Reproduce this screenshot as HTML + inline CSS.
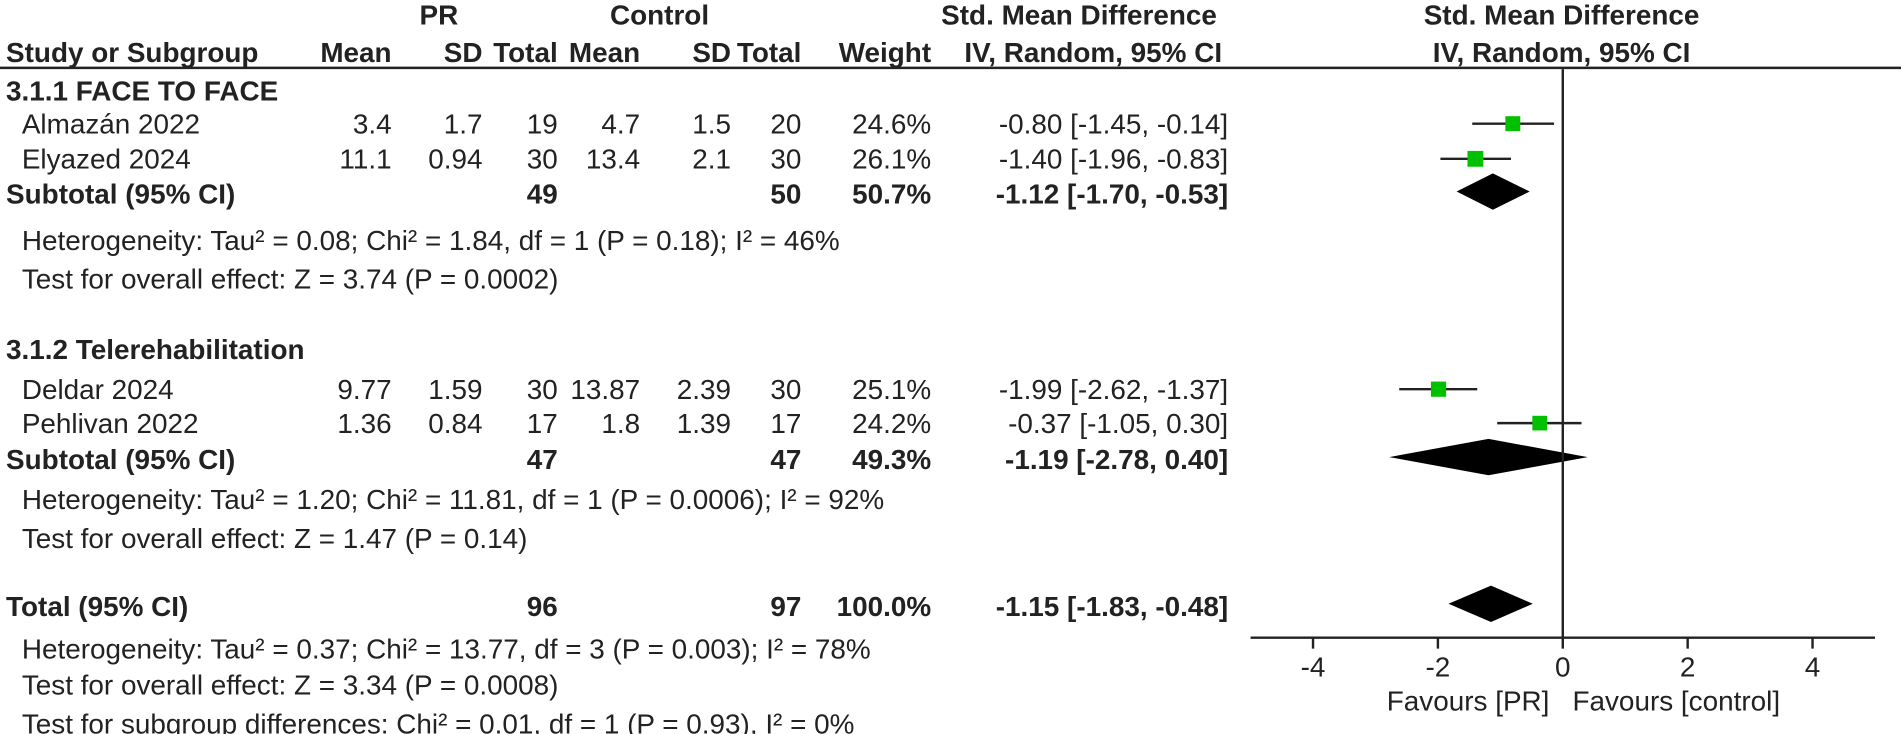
<!DOCTYPE html>
<html><head><meta charset="utf-8"><style>
html,body{margin:0;padding:0;background:#fff;overflow:hidden;}
svg{display:block;font-family:"Liberation Sans",Arial,sans-serif;}
text{fill:#222;font-size:23px;}
.b{font-weight:bold;}
</style></head><body>
<svg id="chart" width="1901" height="734" viewBox="0 0 1901 734" xmlns="http://www.w3.org/2000/svg">
<g transform="scale(1.2124)">
<g>
<text class="b" x="362" y="20" text-anchor="middle">PR</text>
<text class="b" x="544" y="20" text-anchor="middle">Control</text>
<text class="b" x="890" y="20" text-anchor="middle">Std. Mean Difference</text>
<text class="b" x="1288" y="20" text-anchor="middle">Std. Mean Difference</text>
<text class="b" x="5" y="51">Study or Subgroup</text>
<text class="b" x="323" y="51" text-anchor="end">Mean</text>
<text class="b" x="398" y="51" text-anchor="end">SD</text>
<text class="b" x="460" y="51" text-anchor="end">Total</text>
<text class="b" x="528" y="51" text-anchor="end">Mean</text>
<text class="b" x="603" y="51" text-anchor="end">SD</text>
<text class="b" x="661" y="51" text-anchor="end">Total</text>
<text class="b" x="768" y="51" text-anchor="end">Weight</text>
<text class="b" x="1008" y="51" text-anchor="end">IV, Random, 95% CI</text>
<text class="b" x="1288" y="51" text-anchor="middle">IV, Random, 95% CI</text>
<line x1="0" y1="56" x2="1575" y2="56" stroke="#222" stroke-width="2"/>
</g>
<g id="tbl"></g>
<g id="plot"></g>
</g>
</svg>
<script>
// ---- data ----
const studies = ["Almazán 2022","Elyazed 2024","Deldar 2024","Pehlivan 2022"];
const studyY = [102,131,321,349];
const prMean = ["3.4","11.1","9.77","1.36"];
const prSD = ["1.7","0.94","1.59","0.84"];
const prN = ["19","30","30","17"];
const ctMean = ["4.7","13.4","13.87","1.8"];
const ctSD = ["1.5","2.1","2.39","1.39"];
const ctN = ["20","30","30","17"];
const weights = [24.6,26.1,25.1,24.2];
const smd = [-0.80,-1.40,-1.99,-0.37];
const ciLo = [-1.45,-1.96,-2.62,-1.05];
const ciHi = [-0.14,-0.83,-1.37,0.30];
const pooledLabels = ["Subtotal (95% CI)","Subtotal (95% CI)","Total (95% CI)"];
const pooledY = [160,379,500];
const pooledPrN = ["49","47","96"];
const pooledCtN = ["50","47","97"];
const pooledW = ["50.7%","49.3%","100.0%"];
const pooledEst = [-1.12,-1.19,-1.15];
const pooledLo = [-1.70,-2.78,-1.83];
const pooledHi = [-0.53,0.40,-0.48];
const xTicks = [-4,-2,0,2,4];
const notes = [
 ["3.1.1 FACE TO FACE",75,true],
 ["Heterogeneity: Tau² = 0.08; Chi² = 1.84, df = 1 (P = 0.18); I² = 46%",198,false],
 ["Test for overall effect: Z = 3.74 (P = 0.0002)",230,false],
 ["3.1.2 Telerehabilitation",288,true],
 ["Heterogeneity: Tau² = 1.20; Chi² = 11.81, df = 1 (P = 0.0006); I² = 92%",412,false],
 ["Test for overall effect: Z = 1.47 (P = 0.14)",444,false],
 ["Heterogeneity: Tau² = 0.37; Chi² = 13.77, df = 3 (P = 0.003); I² = 78%",535,false],
 ["Test for overall effect: Z = 3.34 (P = 0.0008)",565,false],
 ["Test for subgroup differences: Chi² = 0.01, df = 1 (P = 0.93), I² = 0%",597,false]
];
// ---- helpers ----
const NS="http://www.w3.org/2000/svg";
const x0=1289, pxPerUnit=51.5;
const xs=v=>x0+v*pxPerUnit;
const tbl=document.getElementById('tbl'), plot=document.getElementById('plot');
function txt(parent,s,x,y,anchor,bold,name){
 const t=document.createElementNS(NS,'text');
 t.setAttribute('x',x);t.setAttribute('y',y);
 if(anchor)t.setAttribute('text-anchor',anchor);
 if(bold)t.setAttribute('class','b');
 t.textContent=s;
 
 
 parent.appendChild(t);return t;
}
function el(parent,tag,attrs,name){
 const e=document.createElementNS(NS,tag);
 for(const k in attrs)e.setAttribute(k,attrs[k]);
 
 
 parent.appendChild(e);return e;
}
const f2=v=>v.toFixed(2);
notes.forEach((n,i)=>txt(tbl,n[0],n[2]?5:18,n[1]+8,null,n[2],n[2]?'subgroup-title':'stat-note'));
studies.forEach((s,i)=>{
 const y=studyY[i]+8;
 txt(tbl,s,18,y,null,false,'study-name');
 txt(tbl,prMean[i],323,y,'end',false,'pr-mean');
 txt(tbl,prSD[i],398,y,'end',false,'pr-sd');
 txt(tbl,prN[i],460,y,'end',false,'pr-total');
 txt(tbl,ctMean[i],528,y,'end',false,'control-mean');
 txt(tbl,ctSD[i],603,y,'end',false,'control-sd');
 txt(tbl,ctN[i],661,y,'end',false,'control-total');
 txt(tbl,weights[i].toFixed(1)+'%',768,y,'end',false,'weight');
 txt(tbl,f2(smd[i])+' ['+f2(ciLo[i])+', '+f2(ciHi[i])+']',1013,y,'end',false,'smd-ci');
 el(plot,'line',{x1:xs(ciLo[i]),x2:xs(ciHi[i]),y1:studyY[i],y2:studyY[i],stroke:'#222','stroke-width':2},'ci-line');
 const sz=weights[i]*0.5;
 el(plot,'rect',{x:xs(smd[i])-sz/2,y:studyY[i]-sz/2,width:sz,height:sz,fill:'#00c000'},'study-square');
});
pooledLabels.forEach((s,i)=>{
 const y=pooledY[i]+8;
 txt(tbl,s,5,y,null,true,'pooled-label');
 txt(tbl,pooledPrN[i],460,y,'end',true,'pooled-pr-total');
 txt(tbl,pooledCtN[i],661,y,'end',true,'pooled-control-total');
 txt(tbl,pooledW[i],768,y,'end',true,'pooled-weight');
 txt(tbl,f2(pooledEst[i])+' ['+f2(pooledLo[i])+', '+f2(pooledHi[i])+']',1013,y,'end',true,'pooled-smd-ci');
 const yc=pooledY[i]-2,h=15;
 el(plot,'polygon',{points:`${xs(pooledLo[i])},${yc} ${xs(pooledEst[i])},${yc-h} ${xs(pooledHi[i])},${yc} ${xs(pooledEst[i])},${yc+h}`,fill:'#000'},'pooled-diamond');
});
el(plot,'line',{x1:x0,x2:x0,y1:57,y2:526,stroke:'#222','stroke-width':2},'zero-line');
el(plot,'line',{x1:xs(-5),x2:xs(5),y1:526,y2:526,stroke:'#222','stroke-width':2},'x-axis');
xTicks.forEach(t=>{
 el(plot,'line',{x1:xs(t),x2:xs(t),y1:526,y2:535,stroke:'#222','stroke-width':2},'x-tick');
 txt(plot,String(t),xs(t),558,'middle',false,'x-tick-label');
});
txt(plot,'Favours [PR]',1278,586,'end',false,'favours-pr-label');
txt(plot,'Favours [control]',1297,586,null,false,'favours-control-label');
</script>
</body></html>
